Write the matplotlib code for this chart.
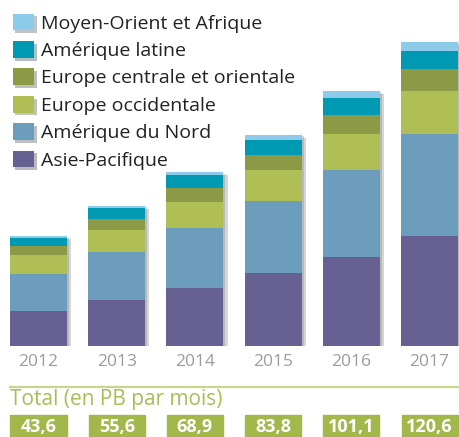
import matplotlib
matplotlib.use("Agg")
import matplotlib.pyplot as plt
import matplotlib.patheffects as pe
import matplotlib.transforms as mtransforms
from matplotlib.patches import Rectangle

plt.rcParams['font.family'] = ['Open Sans', 'DejaVu Sans']

# ---- data (PB par mois) ----
years = ['2012', '2013', '2014', '2015', '2016', '2017']
asie_pacifique = [13.9, 18.3, 23.0, 29.0, 35.3, 43.7]
amerique_nord = [14.7, 19.0, 23.8, 28.6, 34.5, 40.5]
europe_occ = [7.5, 8.7, 10.3, 12.2, 14.3, 17.1]
europe_centrale = [3.6, 4.4, 5.5, 6.0, 7.5, 8.7]
amerique_latine = [3.3, 4.3, 5.1, 6.1, 6.7, 7.1]
moyen_orient = [0.6, 0.9, 1.2, 1.9, 2.8, 3.5]
totals = [43.6, 55.6, 68.9, 83.8, 101.1, 120.6]

series = [
    ('Asie-Pacifique', asie_pacifique, '#676092'),
    ('Amérique du Nord', amerique_nord, '#6d9dbd'),
    ('Europe occidentale', europe_occ, '#afbe55'),
    ('Europe centrale et orientale', europe_centrale, '#8c9a46'),
    ('Amérique latine', amerique_latine, '#0099b4'),
    ('Moyen-Orient et Afrique', moyen_orient, '#8ccbea'),
]

W, H = 459, 437
fig = plt.figure(figsize=(W / 100, H / 100), dpi=100)
ax = fig.add_axes([0, 91 / H, 1, 315 / H])
ax.set_xlim(-38.5 / 78.2, (W - 38.5) / 78.2)
ax.set_ylim(0, 125)
ax.axis('off')

x = list(range(len(years)))
bw = 57 / 78.2

# soft shadow behind each stack
stack_tot = [sum(s[1][i] for s in series) for i in x]
ax.bar(x, stack_tot, width=bw, color='#ffffff', zorder=1,
       path_effects=[pe.SimplePatchShadow(offset=(3, -2), shadow_rgbFace='#777777', alpha=0.3),
                     pe.SimplePatchShadow(offset=(1.5, -1), shadow_rgbFace='#777777', alpha=0.3),
                     pe.Normal()])

bottom = [0.0] * len(years)
handles = []
for name, vals, col in series:
    b = ax.bar(x, vals, width=bw, bottom=bottom, color=col, linewidth=0, zorder=2, label=name)
    handles.append(b)
    bottom = [bottom[i] + vals[i] for i in x]

# year labels
for i, yr in enumerate(years):
    ax.text(i, -16 / 2.52, yr, ha='center', va='center', color='#9c9c9c', fontsize=12.5)

# legend
leg = fig.legend(handles[::-1], [s[0] for s in series][::-1], loc='upper left',
                 bbox_to_anchor=(-3 / W, 1 + 2 / H), frameon=False, fontsize=14,
                 handlelength=1.1, handleheight=0.95, handletextpad=0.35,
                 labelspacing=0.43, borderpad=0.3)
for t in leg.get_texts():
    t.set_color('#222222')
for h in leg.legend_handles:
    h.set_path_effects([pe.SimplePatchShadow(offset=(2, -2), alpha=0.3), pe.Normal()])

# total section
fig.add_artist(plt.Line2D([10 / W, 1], [1 - 386.7 / H] * 2, color='#c8d68c', lw=1.6))
fig.text(10 / W, 1 - 400 / H, 'Total (en PB par mois)', color='#a8bd57',
         fontsize=15, va='center', ha='left')

trans = mtransforms.blended_transform_factory(ax.transData, fig.transFigure)
for i, tot in enumerate(totals):
    bx = 56 / 78.2
    ax.add_patch(Rectangle((i - bx / 2, -0.01), bx, (437 - 415) / H + 0.01,
                           transform=trans, color='#a3b84a', clip_on=False, zorder=3))
    ax.text(i, 1 - 427 / H, f'{tot:.1f}'.replace('.', ','), transform=trans,
            ha='center', va='center', color='white', fontsize=13, fontweight='bold',
            zorder=4)

fig.savefig('out.png', dpi=100)
